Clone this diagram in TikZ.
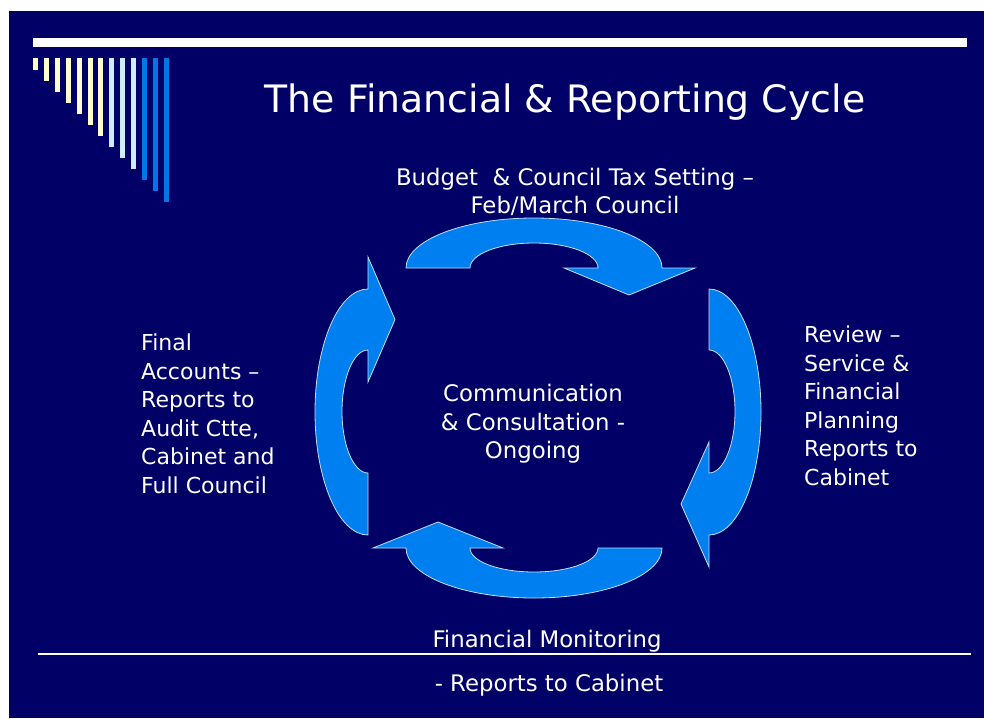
\documentclass[tikz,border=0pt]{standalone}
\usepackage{fontspec}
\setmainfont{DejaVu Sans}
\definecolor{slidenavy}{RGB}{0,0,102}
\definecolor{cycleblue}{RGB}{0,128,240}
\definecolor{barcream}{RGB}{255,255,204}
\definecolor{barsky}{RGB}{204,236,255}
\definecolor{barblue}{RGB}{0,119,230}
\usetikzlibrary{positioning}

\begin{document}
\begin{tikzpicture}[x=1pt, y=1pt, yscale=-1,
  cyclearrow/.style={fill=cycleblue, draw=white!75!cycleblue, line width=0.8pt},
  caption/.style={text=white, inner sep=0pt, font=\fontsize{22.8}{28.5}\selectfont},
]
  \useasboundingbox (0,0) rectangle (984,718);
  \fill[white] (0,0) rectangle (984,718);
  \fill[slidenavy] (9,11) rectangle (984,718);
  % title rule and bars
  \fill[white] (33,38) rectangle (967,47);
  \foreach \i/\barcol in {0/barcream,1/barcream,2/barcream,3/barcream,4/barcream,5/barcream,6/barcream,
                          7/barsky,8/barsky,9/barsky,10/barblue,11/barblue,12/barblue}
    \fill[\barcol] (33+10.9*\i,58) rectangle ++(5,12+11*\i);

  \node[text=white, inner sep=0pt, font=\fontsize{37.8}{42}\selectfont] (title) at (565,102)
    {The Financial \& Reporting Cycle};

  % the four curved arrows
  \draw[cyclearrow] (406,268) arc[start angle=180, end angle=360, x radius=128, y radius=50]
    -- (695,268) -- (629,295) -- (564,268) -- (598,268)
    arc[start angle=0, end angle=-180, x radius=64, y radius=25] -- cycle;
  \draw[cyclearrow] (709,289) arc[start angle=-90, end angle=90, x radius=52, y radius=123]
    -- (709,567) -- (681,504) -- (709,442) -- (709,473)
    arc[start angle=90, end angle=-90, x radius=26, y radius=61.5] -- cycle;
  \draw[cyclearrow] (662,548) arc[start angle=0, end angle=180, x radius=128, y radius=50]
    -- (373,548) -- (438,522) -- (503,548) -- (470,548)
    arc[start angle=180, end angle=0, x radius=64, y radius=24] -- cycle;
  \draw[cyclearrow] (368,535) arc[start angle=90, end angle=270, x radius=53, y radius=123]
    -- (368,257) -- (395,319.5) -- (368,382) -- (368,350)
    arc[start angle=270, end angle=90, x radius=26, y radius=61.5] -- cycle;

  % stage labels
  \node[caption, align=center] (budget) at (575,192)
    {Budget\ \ \& Council Tax Setting –\\Feb/March Council};
  \node[caption, align=left, anchor=west, font=\fontsize{22}{28.5}\selectfont] (review) at (804,406)
    {Review –\\Service \&\\Financial\\Planning\\Reports to\\Cabinet};
  \node[caption, align=left, anchor=west, font=\fontsize{22}{28.5}\selectfont] (accounts) at (141,414)
    {Final\\Accounts –\\Reports to\\Audit Ctte,\\Cabinet and\\Full Council};
  \node[caption, align=center] (consult) at (533,424)
    {Communication\\\& Consultation -\\Ongoing};
  \node[caption] (monitor) at (547,641) {Financial Monitoring};
  \node[caption] (monitorsub) at (549,685) {- Reports to Cabinet};
  \draw[white, line width=1.8pt] (38,654) -- (971,654);
\end{tikzpicture}
\end{document}
